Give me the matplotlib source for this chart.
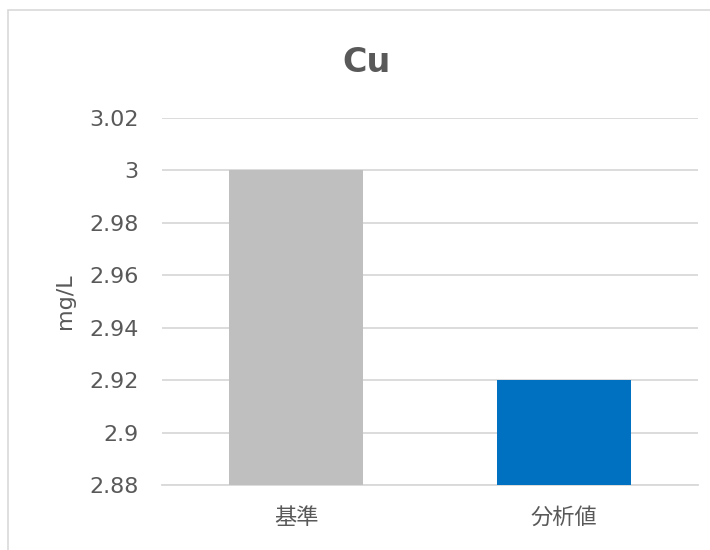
import matplotlib
matplotlib.use('Agg')
import matplotlib.pyplot as plt
from matplotlib.patches import Rectangle


plt.rcParams['font.family'] = ['DejaVu Sans', 'Noto Sans CJK JP']

# данные
categories = ['基準', '分析値']
values = [3.0, 2.92]
bar_colors = ['#BFBFBF', '#0070C0']
y_ticks = [2.88, 2.9, 2.92, 2.94, 2.96, 2.98, 3.0, 3.02]
y_tick_labels = ['2.88', '2.9', '2.92', '2.94', '2.96', '2.98', '3', '3.02']

TEXT = '#595959'
GRID = '#D9D9D9'

fig = plt.figure(figsize=(7.1, 5.5), dpi=100)
axis = fig.add_axes([162 / 710, 1 - 485 / 550, 536 / 710, 367 / 550])

# рамка вокруг диаграммы
fig.patches.append(
    Rectangle((8 / 710, -0.01), 1.0, 1 - 10 / 550 + 0.01,
              transform=fig.transFigure, fill=False,
              edgecolor=GRID, linewidth=1.2)
)

positions = list(range(len(categories)))
axis.bar(positions, values, width=0.5, color=bar_colors, zorder=3)

axis.set_xlim(-0.5, len(categories) - 0.5)
axis.set_ylim(y_ticks[0], y_ticks[-1])
axis.set_yticks(y_ticks)
axis.set_yticklabels(y_tick_labels)
axis.set_xticks(positions)
axis.set_xticklabels(categories)

axis.grid(axis='y', color=GRID, linewidth=1.3, zorder=0)
for side in ('top', 'right', 'left'):
    axis.spines[side].set_visible(False)
axis.spines['bottom'].set_color(GRID)
axis.spines['bottom'].set_linewidth(1.3)

axis.tick_params(axis='y', length=0, pad=17, labelsize=16, labelcolor=TEXT)
axis.tick_params(axis='x', length=0, pad=16, labelsize=16, labelcolor=TEXT)

axis.set_ylabel('mg/L', fontsize=16, color=TEXT)
axis.yaxis.set_label_coords(-0.162, 0.5)

fig.text(367 / 710, 1 - 62 / 550, 'Cu', ha='center', va='center',
         fontsize=24, fontweight='bold', color=TEXT)

fig.savefig('out.png', dpi=100)
